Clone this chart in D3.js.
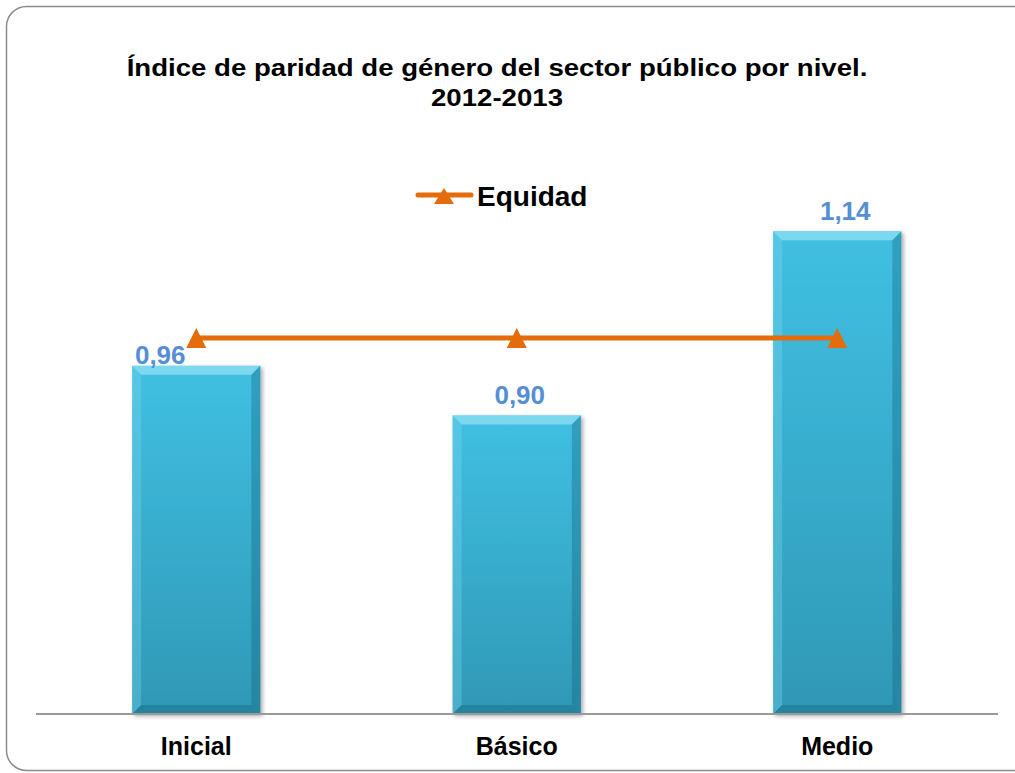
<!DOCTYPE html>
<html>

<head>
    <meta charset="utf-8">
    <style>
        body {
            margin: 0;
            background: white;
        }

        svg {
            font-family: "Liberation Sans", Arial, sans-serif;
            font-weight: bold;
        }

        .axis-line {
            stroke: #9a9a9a;
            stroke-width: 2px;
            shape-rendering: crispEdges;
        }

        .equidad {
            fill: none;
            stroke: #E46C0A;
            stroke-width: 5px;
        }
    </style>
    <script src="https://cdnjs.cloudflare.com/ajax/libs/d3/7.8.5/d3.min.js"></script>
    <title>Índice de paridad de género</title>
</head>

<body>
    <div id="chart"></div>
</body>

</html>

<script>
    // data
    var categories = ["Inicial", "Básico", "Medio"];
    var indice = [0.963, 0.897, 1.142];
    var equidad = [1, 1, 1];
    var titleLines = ["Índice de paridad de género del sector público por nivel.", "2012-2013"];
    var legendLabel = "Equidad";

    var width = 1015,
        height = 773;

    var svg = d3.select("#chart").append("svg")
        .attr("width", width)
        .attr("height", height);

    var defs = svg.append("defs");

    var grad = defs.append("linearGradient")
        .attr("id", "barGrad")
        .attr("x1", 0).attr("y1", 0).attr("x2", 0).attr("y2", 1);
    grad.append("stop").attr("offset", "0%").attr("stop-color", "#40C0E2");
    grad.append("stop").attr("offset", "100%").attr("stop-color", "#2F98B6");

    var shadow = defs.append("filter").attr("id", "shadow")
        .attr("x", "-10%").attr("y", "-10%").attr("width", "130%").attr("height", "130%");
    shadow.append("feDropShadow")
        .attr("dx", 2).attr("dy", 2).attr("stdDeviation", 2)
        .attr("flood-color", "#000").attr("flood-opacity", 0.35);

    // frame
    svg.append("rect")
        .attr("x", 6.5).attr("y", 6.5)
        .attr("width", 1030).attr("height", 764)
        .attr("rx", 20).attr("ry", 20)
        .attr("fill", "white")
        .attr("stroke", "#8c8c8c")
        .attr("stroke-width", 1.5);

    // scales
    var x = d3.scaleBand()
        .domain(categories)
        .range([36, 997.5])
        .paddingInner(0.6)
        .paddingOuter(0.3);

    var y = d3.scaleLinear()
        .domain([0.5, 1.2])
        .range([714, 714 - 0.7 * 752]);

    var fmt = function (v) { return d3.format(".2f")(v).replace(".", ","); };

    // title (source text is slightly stretched horizontally)
    var title = svg.append("g").attr("fill", "#000");
    title.selectAll("text")
        .data(titleLines)
        .enter().append("text")
        .attr("transform", function (d, i) { return "translate(497," + (76 + i * 30) + ") scale(1.15,1)"; })
        .attr("text-anchor", "middle")
        .style("font-size", "24px")
        .text(function (d) { return d; });

    // bars
    var bars = svg.append("g").selectAll("g.bar")
        .data(indice)
        .enter().append("g")
        .attr("class", "bar")
        .attr("filter", "url(#shadow)");

    bars.append("rect")
        .attr("x", function (d, i) { return x(categories[i]); })
        .attr("y", function (d) { return y(d); })
        .attr("width", x.bandwidth())
        .attr("height", function (d) { return y.range()[0] - y(d); })
        .attr("fill", "url(#barGrad)");

    // bevel facets
    var b = 9;
    function facet(d, i, side) {
        var x0 = x(categories[i]), x1 = x0 + x.bandwidth(),
            y0 = y(d), y1 = y.range()[0];
        var pts;
        if (side === "top") pts = [[x0, y0], [x1, y0], [x1 - b, y0 + b], [x0 + b, y0 + b]];
        if (side === "left") pts = [[x0, y0], [x0 + b, y0 + b], [x0 + b, y1 - b], [x0, y1]];
        if (side === "right") pts = [[x1, y0], [x1 - b, y0 + b], [x1 - b, y1 - b], [x1, y1]];
        if (side === "bottom") pts = [[x0, y1], [x1, y1], [x1 - b, y1 - b], [x0 + b, y1 - b]];
        return "M" + pts.join("L") + "Z";
    }
    var facets = [
        { side: "top", fill: "#8FE0F3", op: 0.75 },
        { side: "left", fill: "#7FD6EE", op: 0.35 },
        { side: "right", fill: "#13617A", op: 0.35 },
        { side: "bottom", fill: "#0F5468", op: 0.3 }
    ];
    facets.forEach(function (f) {
        bars.append("path")
            .attr("d", function (d, i) { return facet(d, i, f.side); })
            .attr("fill", f.fill)
            .attr("fill-opacity", f.op);
    });

    // axis line
    svg.append("line")
        .attr("class", "axis-line")
        .attr("x1", x.range()[0]).attr("x2", x.range()[1])
        .attr("y1", y.range()[0]).attr("y2", y.range()[0]);

    // category labels
    svg.append("g").selectAll("text")
        .data(categories)
        .enter().append("text")
        .attr("x", function (d) { return x(d) + x.bandwidth() / 2; })
        .attr("y", 755)
        .attr("text-anchor", "middle")
        .style("font-size", "25px")
        .attr("fill", "#000")
        .text(function (d) { return d; });

    // data labels
    var labelDx = [-36, 3, 8];
    var labelDy = [-2, -11, -11];
    svg.append("g").selectAll("text")
        .data(indice)
        .enter().append("text")
        .attr("x", function (d, i) { return x(categories[i]) + x.bandwidth() / 2 + labelDx[i]; })
        .attr("y", function (d, i) { return y(d) + labelDy[i]; })
        .attr("text-anchor", "middle")
        .style("font-size", "26px")
        .attr("fill", "#558ED5")
        .text(fmt);

    // equidad line
    var cx = function (d, i) { return x(categories[i]) + x.bandwidth() / 2; };
    var line = d3.line()
        .x(cx)
        .y(function (d) { return y(d); });

    svg.append("path")
        .datum(equidad)
        .attr("class", "equidad")
        .attr("d", line);

    function tri(px, py) {
        return "M" + px + "," + (py - 10) + "L" + (px + 10) + "," + (py + 10) + "L" + (px - 10) + "," + (py + 10) + "Z";
    }

    svg.append("g").selectAll("path")
        .data(equidad)
        .enter().append("path")
        .attr("d", function (d, i) { return tri(cx(d, i), y(d)); })
        .attr("fill", "#E46C0A");

    // legend
    var legend = svg.append("g").attr("transform", "translate(418,195)");
    legend.append("line")
        .attr("x1", 0).attr("x2", 53)
        .attr("y1", 0).attr("y2", 0)
        .attr("stroke", "#E46C0A")
        .attr("stroke-width", 5)
        .attr("stroke-linecap", "round");
    legend.append("path")
        .attr("d", "M26,-7L36,9L16,9Z")
        .attr("fill", "#E46C0A");
    legend.append("text")
        .attr("x", 59)
        .attr("y", 10.5)
        .style("font-size", "28px")
        .attr("fill", "#000")
        .text(legendLabel);
</script>
